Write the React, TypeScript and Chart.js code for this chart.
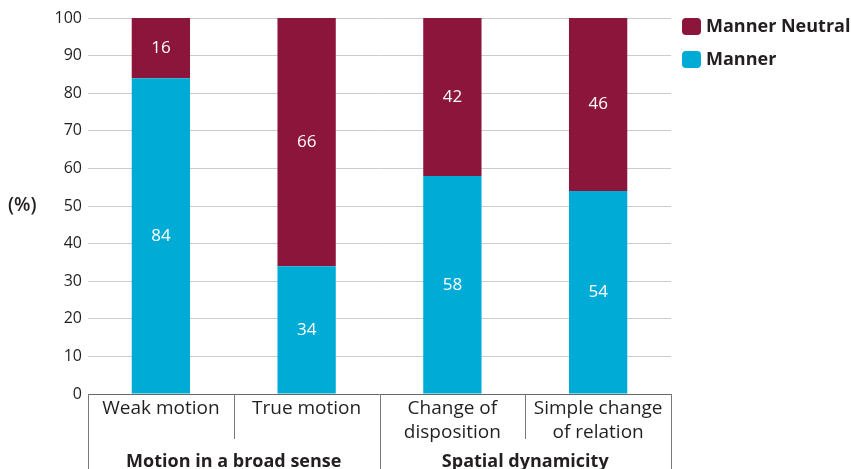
import { useEffect, useRef } from "react";
import { Chart, registerables } from "chart.js";

Chart.register(...registerables);

// Categories, grouped two by two under a heading row
const categories = ["Weak motion", "True motion", "Change of disposition", "Simple change of relation"];
const categoryLines = [["Weak motion"], ["True motion"], ["Change of", "disposition"], ["Simple change", "of relation"]];
const groups = ["Motion in a broad sense", "Spatial dynamicity"];
const groupSizes = [2, 2];

// Shares in percent
const manner = [84, 34, 58, 54];
const mannerNeutral = [16, 66, 42, 46];

const yMin = 0;
const yMax = 100;
const yStep = 10;

const MAROON = "#8C153B";
const CYAN = "#00ACD6";
const TEXT = "#231F20";
const FONT = "'Open Sans', 'Noto Sans', sans-serif";

// White value labels centred in each stacked segment
const valueLabels = {
  id: "valueLabels",
  afterDatasetsDraw(chart: any) {
    const ctx = chart.ctx;
    ctx.save();
    ctx.fillStyle = "#ffffff";
    ctx.font = `17px ${FONT}`;
    ctx.textAlign = "center";
    ctx.textBaseline = "middle";
    chart.data.datasets.forEach((ds: any, di: number) => {
      const meta = chart.getDatasetMeta(di);
      meta.data.forEach((bar: any, i: number) => {
        const cy = (bar.y + bar.base) / 2;
        ctx.fillText(String(ds.data[i]), bar.x, cy);
      });
    });
    ctx.restore();
  },
};

// Category table under the plot, y-axis unit and legend on the right
const decorations = {
  id: "decorations",
  afterDraw(chart: any) {
    const ctx = chart.ctx;
    const area = chart.chartArea;
    const xs = chart.scales.x;
    const bottom = chart.height;
    const n = categories.length;
    const centers = categories.map((_, i) => xs.getPixelForValue(i));
    const edges: number[] = [area.left];
    for (let i = 0; i < n - 1; i++) edges.push((centers[i] + centers[i + 1]) / 2);
    edges.push(area.right);

    ctx.save();
    // axis line
    ctx.strokeStyle = "#666666";
    ctx.lineWidth = 1;
    ctx.beginPath();
    ctx.moveTo(area.left, Math.round(area.bottom) + 0.5);
    ctx.lineTo(area.right, Math.round(area.bottom) + 0.5);
    ctx.stroke();

    // group boundaries (full height) and category dividers (short)
    const groupEdges = new Set<number>([0, n]);
    let acc = 0;
    groupSizes.forEach((s) => {
      acc += s;
      groupEdges.add(acc);
    });
    ctx.strokeStyle = "#7a7a7a";
    edges.forEach((x, i) => {
      const full = groupEdges.has(i);
      const px = Math.round(x) + 0.5;
      ctx.beginPath();
      ctx.moveTo(px, area.bottom);
      ctx.lineTo(px, full ? bottom : area.bottom + 45);
      ctx.stroke();
    });

    // category labels
    ctx.fillStyle = TEXT;
    ctx.textAlign = "center";
    ctx.textBaseline = "middle";
    ctx.font = `19px ${FONT}`;
    categoryLines.forEach((lines, i) => {
      lines.forEach((line, j) => {
        ctx.fillText(line, centers[i], area.bottom + 15 + j * 24);
      });
    });

    // group labels
    ctx.font = `bold 18px ${FONT}`;
    let start = 0;
    groups.forEach((g, gi) => {
      const end = start + groupSizes[gi];
      const cx = (edges[start] + edges[end]) / 2;
      ctx.fillText(g, cx, area.bottom + 68);
      start = end;
    });

    // unit label
    ctx.textAlign = "left";
    ctx.font = `600 19px ${FONT}`;
    ctx.fillText("(%)", 8, chart.scales.y.getPixelForValue(50));

    // legend
    const items = [
      { label: "Manner Neutral", color: MAROON },
      { label: "Manner", color: CYAN },
    ];
    ctx.font = `bold 18px ${FONT}`;
    items.forEach((it, i) => {
      const y = 18 + i * 33;
      ctx.fillStyle = it.color;
      ctx.beginPath();
      (ctx as any).roundRect(682, y, 19, 17, 4);
      ctx.fill();
      ctx.fillStyle = TEXT;
      ctx.fillText(it.label, 706, y + 9);
    });
    ctx.restore();
  },
};

export default function App() {
  const canvasRef = useRef<HTMLCanvasElement>(null);

  useEffect(() => {
    const canvas = canvasRef.current;
    if (!canvas) return;
    const chart = new Chart(canvas, {
      type: "bar",
      data: {
        labels: categories,
        datasets: [
          { label: "Manner", data: manner, backgroundColor: CYAN, borderWidth: 0 },
          { label: "Manner Neutral", data: mannerNeutral, backgroundColor: MAROON, borderWidth: 0 },
        ],
      },
      options: {
        responsive: false,
        animation: false,
        layout: { padding: { left: 0, right: 180, top: 18, bottom: 67 } },
        plugins: {
          legend: { display: false },
          tooltip: { enabled: false },
        },
        datasets: {
          bar: { categoryPercentage: 1, barPercentage: 0.4 },
        },
        scales: {
          x: {
            stacked: true,
            grid: { display: false },
            border: { display: false },
            ticks: { display: false },
          },
          y: {
            stacked: true,
            min: yMin,
            max: yMax,
            ticks: {
              stepSize: yStep,
              padding: 6,
              color: TEXT,
              font: { family: FONT, size: 16 },
            },
            grid: { color: "#cccccc", lineWidth: 1, drawTicks: false },
            border: { display: false },
            afterFit(scale: any) {
              scale.width = 88;
            },
          },
        },
      },
      plugins: [valueLabels, decorations],
    });
    return () => chart.destroy();
  }, []);

  return (
    <div style={{ position: "absolute", left: 0, top: 0, width: 851, height: 469, background: "#ffffff" }}>
      <canvas ref={canvasRef} width={851} height={469} />
    </div>
  );
}
